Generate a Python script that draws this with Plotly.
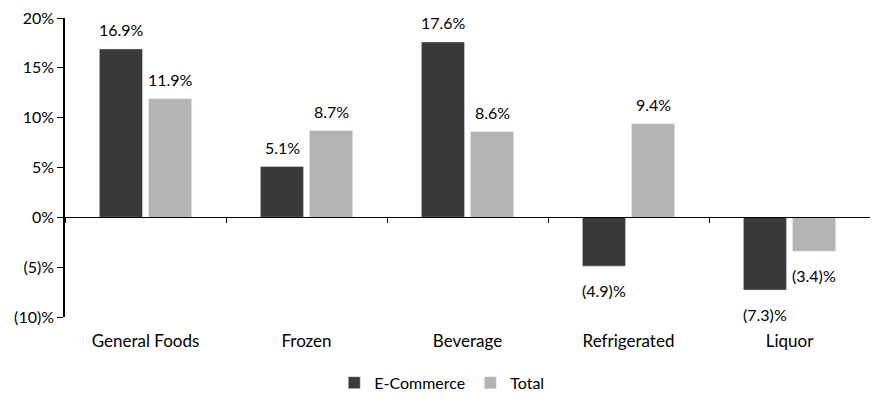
import plotly.graph_objects as go

categories = ["General Foods", "Frozen", "Beverage", "Refrigerated", "Liquor"]
ecommerce = [16.9, 5.1, 17.6, -4.9, -7.3]
total = [11.9, 8.7, 8.6, 9.4, -3.4]
tick_vals = [-10, -5, 0, 5, 10, 15, 20]
tick_text = ["(10)%", "(5)%", "0%", "5%", "10%", "15%", "20%"]

def fmt(v):
    return f"({abs(v):.1f})%" if v < 0 else f"{v:.1f}%"

FONT = "Lato, Open Sans, sans-serif"
fig = go.Figure()
fig.add_trace(go.Bar(x=categories, y=ecommerce, name="E-Commerce", marker_color="#3a3a3a"))
fig.add_trace(go.Bar(x=categories, y=total, name="Total", marker_color="#b3b3b3"))
# helper invisible trace for boundary ticks on the zero line
fig.add_trace(go.Scatter(x=categories, y=[None]*len(categories), xaxis="x2",
                         showlegend=False, hoverinfo="skip"))

# data labels
for series, shift in ((ecommerce, -24.5), (total, 24.5)):
    for c, v in zip(categories, series):
        fig.add_annotation(x=c, y=v, text=fmt(v), showarrow=False, xref="x", yref="y",
                           xshift=shift, yshift=19 if v >= 0 else -24,
                           yanchor="middle", font=dict(size=16, color="black"))

# page body has an ~8px margin; size the figure to compensate
fig.update_layout(
    width=870, height=406,
    margin=dict(l=57, r=8, t=10, b=97, autoexpand=False),
    plot_bgcolor="white", paper_bgcolor="white",
    font=dict(family=FONT, size=16, color="black"),
    barmode="group", bargap=0.39, bargroupgap=0.12,
    showlegend=True,
    legend=dict(orientation="h", x=0.468, xanchor="center", y=-0.22, yanchor="middle",
                font=dict(size=16), itemwidth=30, traceorder="normal"),
    xaxis=dict(showline=False, ticks="", showgrid=False, zeroline=False,
               tickfont=dict(size=17), ticklabelstandoff=12, automargin=False),
    xaxis2=dict(overlaying="x", anchor="free", position=1/3, side="bottom",
                matches="x", showline=True, linecolor="black", linewidth=1,
                ticks="outside", tickson="boundaries", ticklen=5, tickcolor="black",
                showticklabels=False, showgrid=False, zeroline=False),
    yaxis=dict(range=[-10, 20.0001], tickvals=tick_vals, ticktext=tick_text,
               showline=True, linecolor="black", linewidth=1.5, ticks="outside",
               ticklen=6, tickcolor="black", showgrid=False, zeroline=False,
               tickfont=dict(size=16), automargin=False, ticklabeloverflow="allow"),
)
fig.write_html("out.html")
